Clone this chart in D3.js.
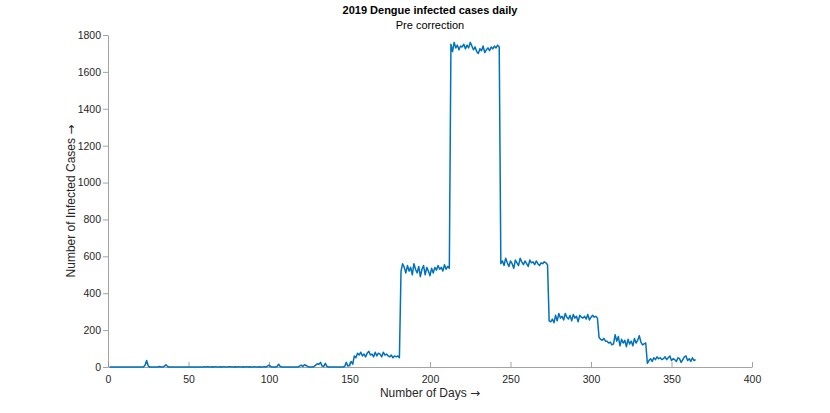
<!DOCTYPE html>
<html>
<head>
<meta charset="utf-8">
<script src="https://cdn.jsdelivr.net/npm/d3@7"></script>
<style>
  body { margin: 0; background: #fff; }
  text { font-family: "Liberation Sans", Arial, sans-serif; }
</style>
</head>
<body>
<div id="chart"></div>
<script>
const janToMay = [
    0, 0, 0, 0, 0, 0, 0, 0, 0, 0,
    0, 0, 0, 0, 0, 0, 0, 0, 0, 0,
    0, 0, 10, 35, 5, 0, 0, 0, 0, 0,
    0, 3, 0, 0, 5, 12, 3, 0, 0, 0,
    0, 0, 0, 0, 0, 0, 0, 0, 0, 0,
    0, 0, 0, 0, 0, 0, 0, 0, 0, 2,
    0, 2, 0, 0, 1, 0, 2, 0, 0, 1,
    0, 2, 0, 0, 1, 2, 0, 0, 1, 0,
    2, 0, 0, 1, 0, 2, 0, 1, 0, 0,
    2, 0, 0, 1, 0, 0, 2, 0, 5, 10,
    3, 0, 0, 0, 3, 15, 3, 0, 0, 0,
    0, 0, 0, 0, 0, 0, 0, 0, 5, 10,
    3, 12, 8, 3, 0, 0, 0, 3, 10, 18,
    15, 25, 5, 3, 20, 3, 0, 0, 0, 0,
    0, 0, 0, 0, 0, 0, 3, 25, 5, 10
];
const june = [30, 15, 60, 50, 75, 65, 80, 60, 70, 55, 75, 85, 65, 70, 55, 80,
    60, 75, 70, 55, 80, 65, 70, 60, 55, 65, 50, 60, 55, 60, 50];
const july = [520, 560, 540, 510, 550, 520, 540, 500, 560, 530, 510, 545, 490, 530,
    550, 500, 540, 520, 495, 535, 510, 540, 525, 550, 530, 540, 520, 555, 530, 545, 535];
const august = [1750, 1710, 1760, 1730, 1745, 1720, 1740, 1735, 1750, 1725, 1745, 1730,
    1760, 1740, 1720, 1735, 1710, 1700, 1725, 1715, 1740, 1705, 1720, 1730, 1715, 1735,
    1725, 1740, 1730, 1745, 1735];
const september = [560, 575, 550, 590, 565, 545, 575, 560, 535, 580, 565, 550, 590, 570,
    555, 575, 560, 545, 580, 565, 570, 555, 575, 560, 550, 565, 560, 570, 565, 555];
const october = [250, 245, 260, 240, 280, 250, 290, 265, 275, 255, 290, 270, 260, 280,
    250, 285, 265, 275, 245, 280, 270, 265, 275, 260, 285, 255, 270, 280, 270, 275, 265];
const november = [160, 150, 145, 155, 140, 140, 130, 135, 120, 125, 175, 140, 165, 115,
    150, 130, 145, 110, 150, 125, 140, 115, 155, 130, 145, 170, 135, 120, 125, 130];
const december = [20, 35, 45, 30, 50, 40, 55, 45, 50, 40, 45, 55, 40, 50, 60, 35, 45,
    40, 30, 50, 45, 25, 40, 55, 60, 35, 45, 30, 50, 35, 40];

const xTicks = [0, 50, 100, 150, 200, 250, 300, 350, 400];
const yTicks = [0, 200, 400, 600, 800, 1000, 1200, 1400, 1600, 1800];

const cases = [].concat(janToMay, june, july, august, september, october, november, december);
const data = cases.map((v, i) => ({ day: i + 1, value: v }));

const width = 830, height = 413;
const margin = { left: 108, right: 78, top: 35, bottom: 46 };

const svg = d3.select("#chart").append("svg")
    .attr("width", width)
    .attr("height", height);

const x = d3.scaleLinear().domain([0, 400]).range([margin.left, width - margin.right]);
const y = d3.scaleLinear().domain([0, 1800]).range([height - margin.bottom, margin.top]);

const axisColor = "#262626";
const lineColor = "#8c8c8c";

// x axis, ticks pointing up into the plot
const xAxis = svg.append("g")
    .attr("transform", "translate(0," + (height - margin.bottom) + ")")
    .call(d3.axisBottom(x).tickValues(xTicks).tickFormat(d3.format("d"))
        .tickSizeInner(-5).tickSizeOuter(0).tickPadding(9));

// y axis, ticks pointing out to the left
const yAxis = svg.append("g")
    .attr("transform", "translate(" + margin.left + ",0)")
    .call(d3.axisLeft(y).tickValues(yTicks).tickFormat(d3.format("d"))
        .tickSizeInner(5).tickSizeOuter(0).tickPadding(2));

[xAxis, yAxis].forEach(g => {
    g.select(".domain").attr("stroke", lineColor).attr("stroke-width", 0.8);
    g.selectAll(".tick line").attr("stroke", lineColor).attr("stroke-width", 0.8);
    g.selectAll(".tick text")
        .attr("fill", axisColor)
        .attr("font-size", "10.5px")
        .attr("font-family", "Liberation Sans, Arial, sans-serif");
});

// the line
const line = d3.line()
    .x(d => x(d.day))
    .y(d => y(d.value));

svg.append("path")
    .datum(data)
    .attr("fill", "none")
    .attr("stroke", "#0072BD")
    .attr("stroke-width", 1.5)
    .attr("stroke-linejoin", "round")
    .attr("d", line);

// titles
svg.append("text")
    .attr("x", (margin.left + width - margin.right) / 2)
    .attr("y", 14)
    .attr("text-anchor", "middle")
    .attr("font-size", "11px")
    .attr("font-weight", "bold")
    .attr("fill", "#000")
    .text("2019 Dengue infected cases daily");

svg.append("text")
    .attr("x", (margin.left + width - margin.right) / 2)
    .attr("y", 29)
    .attr("text-anchor", "middle")
    .attr("font-size", "11px")
    .attr("fill", "#000")
    .text("Pre correction");

// axis labels
const xLabel = svg.append("text")
    .attr("x", (margin.left + width - margin.right) / 2)
    .attr("y", 397)
    .attr("text-anchor", "middle")
    .attr("font-size", "12px")
    .attr("fill", axisColor);
xLabel.append("tspan").text("Number of Days ");
xLabel.append("tspan").attr("font-family", "DejaVu Sans").text("\u2192");

const yLabel = svg.append("text")
    .attr("transform", "translate(75," + ((margin.top + height - margin.bottom) / 2) + ") rotate(-90)")
    .attr("text-anchor", "middle")
    .attr("font-size", "12px")
    .attr("fill", axisColor);
yLabel.append("tspan").text("Number of Infected Cases ");
yLabel.append("tspan").attr("font-family", "DejaVu Sans").text("\u2192");
</script>
</body>
</html>
